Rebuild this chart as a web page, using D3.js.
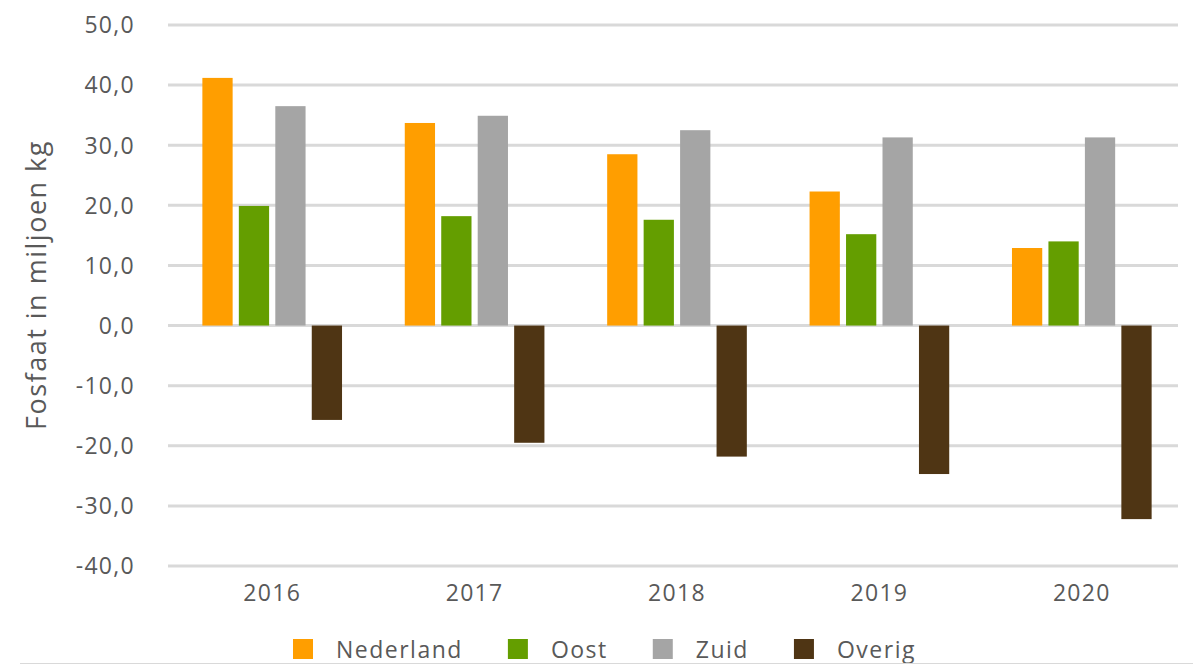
<!DOCTYPE html>
<meta charset="utf-8">
<style>
body { margin: 0; background: #fff; }
text { font-family: "Open Sans", sans-serif; fill: #595959; }
.grid line { stroke: #d9d9d9; stroke-width: 3px; }
</style>
<body>
<script src="https://d3js.org/d3.v7.min.js"></script>
<script>

// data (miljoen kg fosfaat)
var years = ["2016", "2017", "2018", "2019", "2020"];
var series = ["Nederland", "Oost", "Zuid", "Overig"];
var colors = ["#ff9e00", "#649e00", "#a5a5a5", "#4f3514"];
var nederland = [41.2, 33.7, 28.5, 22.3, 12.9];
var oost = [19.9, 18.2, 17.6, 15.2, 14.0];
var zuid = [36.5, 34.9, 32.5, 31.3, 31.3];
var overig = [-15.7, -19.5, -21.8, -24.7, -32.2];
var yTicks = [50, 40, 30, 20, 10, 0, -10, -20, -30, -40];

var values = [nederland, oost, zuid, overig];

var width = 1193, height = 665;

var svg = d3.select("body").append("svg")
    .attr("width", width)
    .attr("height", height);

var y = d3.scaleLinear()
    .domain([-40, 50])
    .range([566, 25]);

var x0 = d3.scaleBand()
    .domain(years)
    .range([171, 1183])
    .paddingInner(0.31)
    .paddingOuter(0.155);

var x1 = d3.scaleBand()
    .domain(series)
    .range([0, x0.bandwidth()])
    .paddingInner(0.17);

// gridlines
svg.append("g")
    .attr("class", "grid")
  .selectAll("line")
    .data(yTicks)
  .enter().append("line")
    .attr("x1", 168)
    .attr("x2", 1178)
    .attr("y1", function(d) { return y(d); })
    .attr("y2", function(d) { return y(d); });

// y tick labels, dutch decimal comma and plain hyphen
svg.append("g")
  .selectAll("text")
    .data(yTicks)
  .enter().append("text")
    .attr("x", 135)
    .attr("y", function(d) { return y(d); })
    .attr("dy", "0.36em")
    .attr("text-anchor", "end")
    .style("font-size", "23px")
    .style("letter-spacing", "1.3px")
    .text(function(d) { return d3.format(".1f")(d).replace(".", ",").replace("\u2212", "-"); });

// bars
var groups = svg.selectAll(".year")
    .data(years)
  .enter().append("g")
    .attr("class", "year")
    .attr("transform", function(d) { return "translate(" + x0(d) + ",0)"; });

groups.selectAll("rect")
    .data(function(d, i) {
      return series.map(function(s, j) { return {key: s, value: values[j][i], color: colors[j]}; });
    })
  .enter().append("rect")
    .attr("x", function(d) { return x1(d.key); })
    .attr("width", x1.bandwidth())
    .attr("y", function(d) { return y(Math.max(0, d.value)); })
    .attr("height", function(d) { return Math.abs(y(d.value) - y(0)); })
    .attr("fill", function(d) { return d.color; });

// x labels
svg.append("g")
  .selectAll("text")
    .data(years)
  .enter().append("text")
    .attr("x", function(d) { return x0(d) + x0.bandwidth() / 2; })
    .attr("y", 601)
    .attr("text-anchor", "middle")
    .style("font-size", "23px")
    .style("letter-spacing", "1.3px")
    .text(function(d) { return d; });

// y axis title
svg.append("text")
    .attr("transform", "translate(46,285) rotate(-90)")
    .attr("text-anchor", "middle")
    .style("font-size", "27px")
    .style("letter-spacing", "1.5px")
    .text("Fosfaat in miljoen kg");

// legend
var legend = svg.append("g");
var lx = 293;
series.forEach(function(s, i) {
  legend.append("rect")
      .attr("x", lx)
      .attr("y", 639)
      .attr("width", 20)
      .attr("height", 20)
      .attr("fill", colors[i]);
  var t = legend.append("text")
      .attr("x", lx + 43)
      .attr("y", 658)
      .style("font-size", "23px")
      .style("letter-spacing", "1.5px")
      .text(s);
  lx = lx + 43 + t.node().getComputedTextLength() + 45;
});

// bottom frame line
svg.append("line")
    .attr("x1", 20)
    .attr("x2", 1193)
    .attr("y1", 663.5)
    .attr("y2", 663.5)
    .attr("stroke", "#d9d9d9")
    .attr("stroke-width", 1);

</script>
</body>
